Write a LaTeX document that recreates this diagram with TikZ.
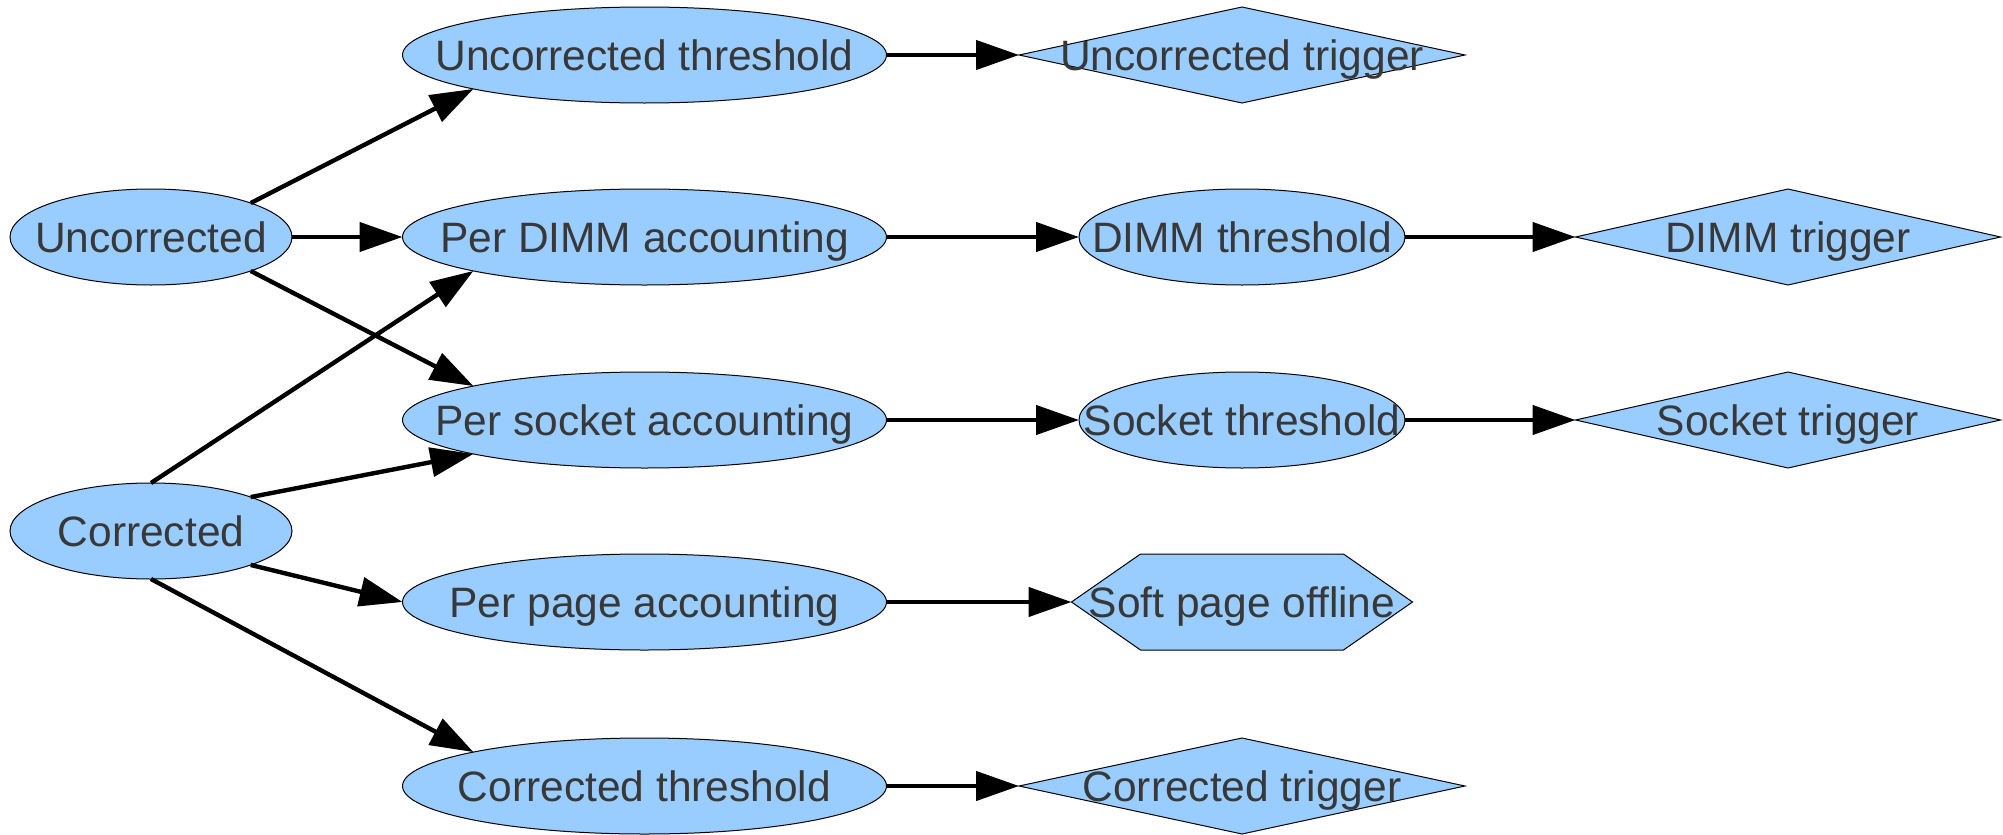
\documentclass[tikz,border=0pt]{standalone}
\usepackage{fontspec}
\setmainfont{Liberation Sans}
\usetikzlibrary{shapes.geometric,arrows.meta}
\definecolor{nodefill}{HTML}{99CCFF}
\definecolor{nodetext}{HTML}{383838}

\begin{document}
\begin{tikzpicture}[x=0.5pt,y=-0.5pt,
  base/.style={draw=black, line width=0.5pt, fill=nodefill, inner sep=0pt, outer sep=0pt, minimum height=48pt},
  oval/.style={base, ellipse},
  gem/.style={base, diamond},
  txt/.style={font=\fontsize{21.25}{25}\selectfont, text=nodetext, text height=15.2pt, text depth=0pt, inner sep=0pt},
  conn/.style={line width=2.2pt, -{Triangle[length=21.5pt,width=14.5pt]}}
]
\useasboundingbox (0,0) rectangle (2003,835);

% sources
\node[oval, minimum width=141pt, label={[txt]center:Uncorrected}] (U) at (151,237) {};
\node[oval, minimum width=141pt, label={[txt]center:Corrected}] (C) at (151,531) {};

% accounting and thresholds
\node[oval, minimum width=242pt, label={[txt]center:Uncorrected threshold}] (ut) at (644.5,55) {};
\node[oval, minimum width=242pt, label={[txt]center:Per DIMM accounting}] (pd) at (644.5,237) {};
\node[oval, minimum width=242pt, label={[txt]center:Per socket accounting}] (ps) at (644.5,420) {};
\node[oval, minimum width=242pt, label={[txt]center:Per page accounting}] (pp) at (644.5,602) {};
\node[oval, minimum width=242pt, label={[txt]center:Corrected threshold}] (ct) at (644.5,786) {};

% third column
\node[gem, minimum width=223pt, label={[txt]center:Uncorrected trigger}] (utr) at (1242,55) {};
\node[oval, minimum width=163pt, label={[txt]center:DIMM threshold}] (dt) at (1242,237) {};
\node[oval, minimum width=163pt, label={[txt]center:Socket threshold}] (st) at (1242,420) {};
\path[draw=black, line width=0.5pt, fill=nodefill]
  (1071.5,602) -- (1140.5,554) -- (1343.5,554) -- (1412.5,602) -- (1343.5,650) -- (1140.5,650) -- cycle;
\node[txt, minimum width=170.5pt, minimum height=48pt, outer sep=0pt] (soft) at (1242,602) {Soft page offline};
\node[gem, minimum width=223pt, label={[txt]center:Corrected trigger}] (ctr) at (1242,786) {};

% triggers
\node[gem, minimum width=212.5pt, label={[txt]center:DIMM trigger}] (dtr) at (1788,237) {};
\node[gem, minimum width=212.5pt, label={[txt]center:Socket trigger}] (str) at (1788,420) {};

% connectors
\draw[conn] (U.north east) -- (ut.south west);
\draw[conn] (U.east) -- (pd.west);
\draw[conn] (U.south east) -- (ps.north west);
\draw[conn] (C.north) -- (pd.south west);
\draw[conn] (C.north east) -- (ps.south west);
\draw[conn] (C.south east) -- (pp.west);
\draw[conn] (C.south) -- (ct.north west);
\draw[conn] (ut.east) -- (utr.west);
\draw[conn] (pd.east) -- (dt.west);
\draw[conn] (dt.east) -- (dtr.west);
\draw[conn] (ps.east) -- (st.west);
\draw[conn] (st.east) -- (str.west);
\draw[conn] (pp.east) -- (soft.west);
\draw[conn] (ct.east) -- (ctr.west);
\end{tikzpicture}
\end{document}
